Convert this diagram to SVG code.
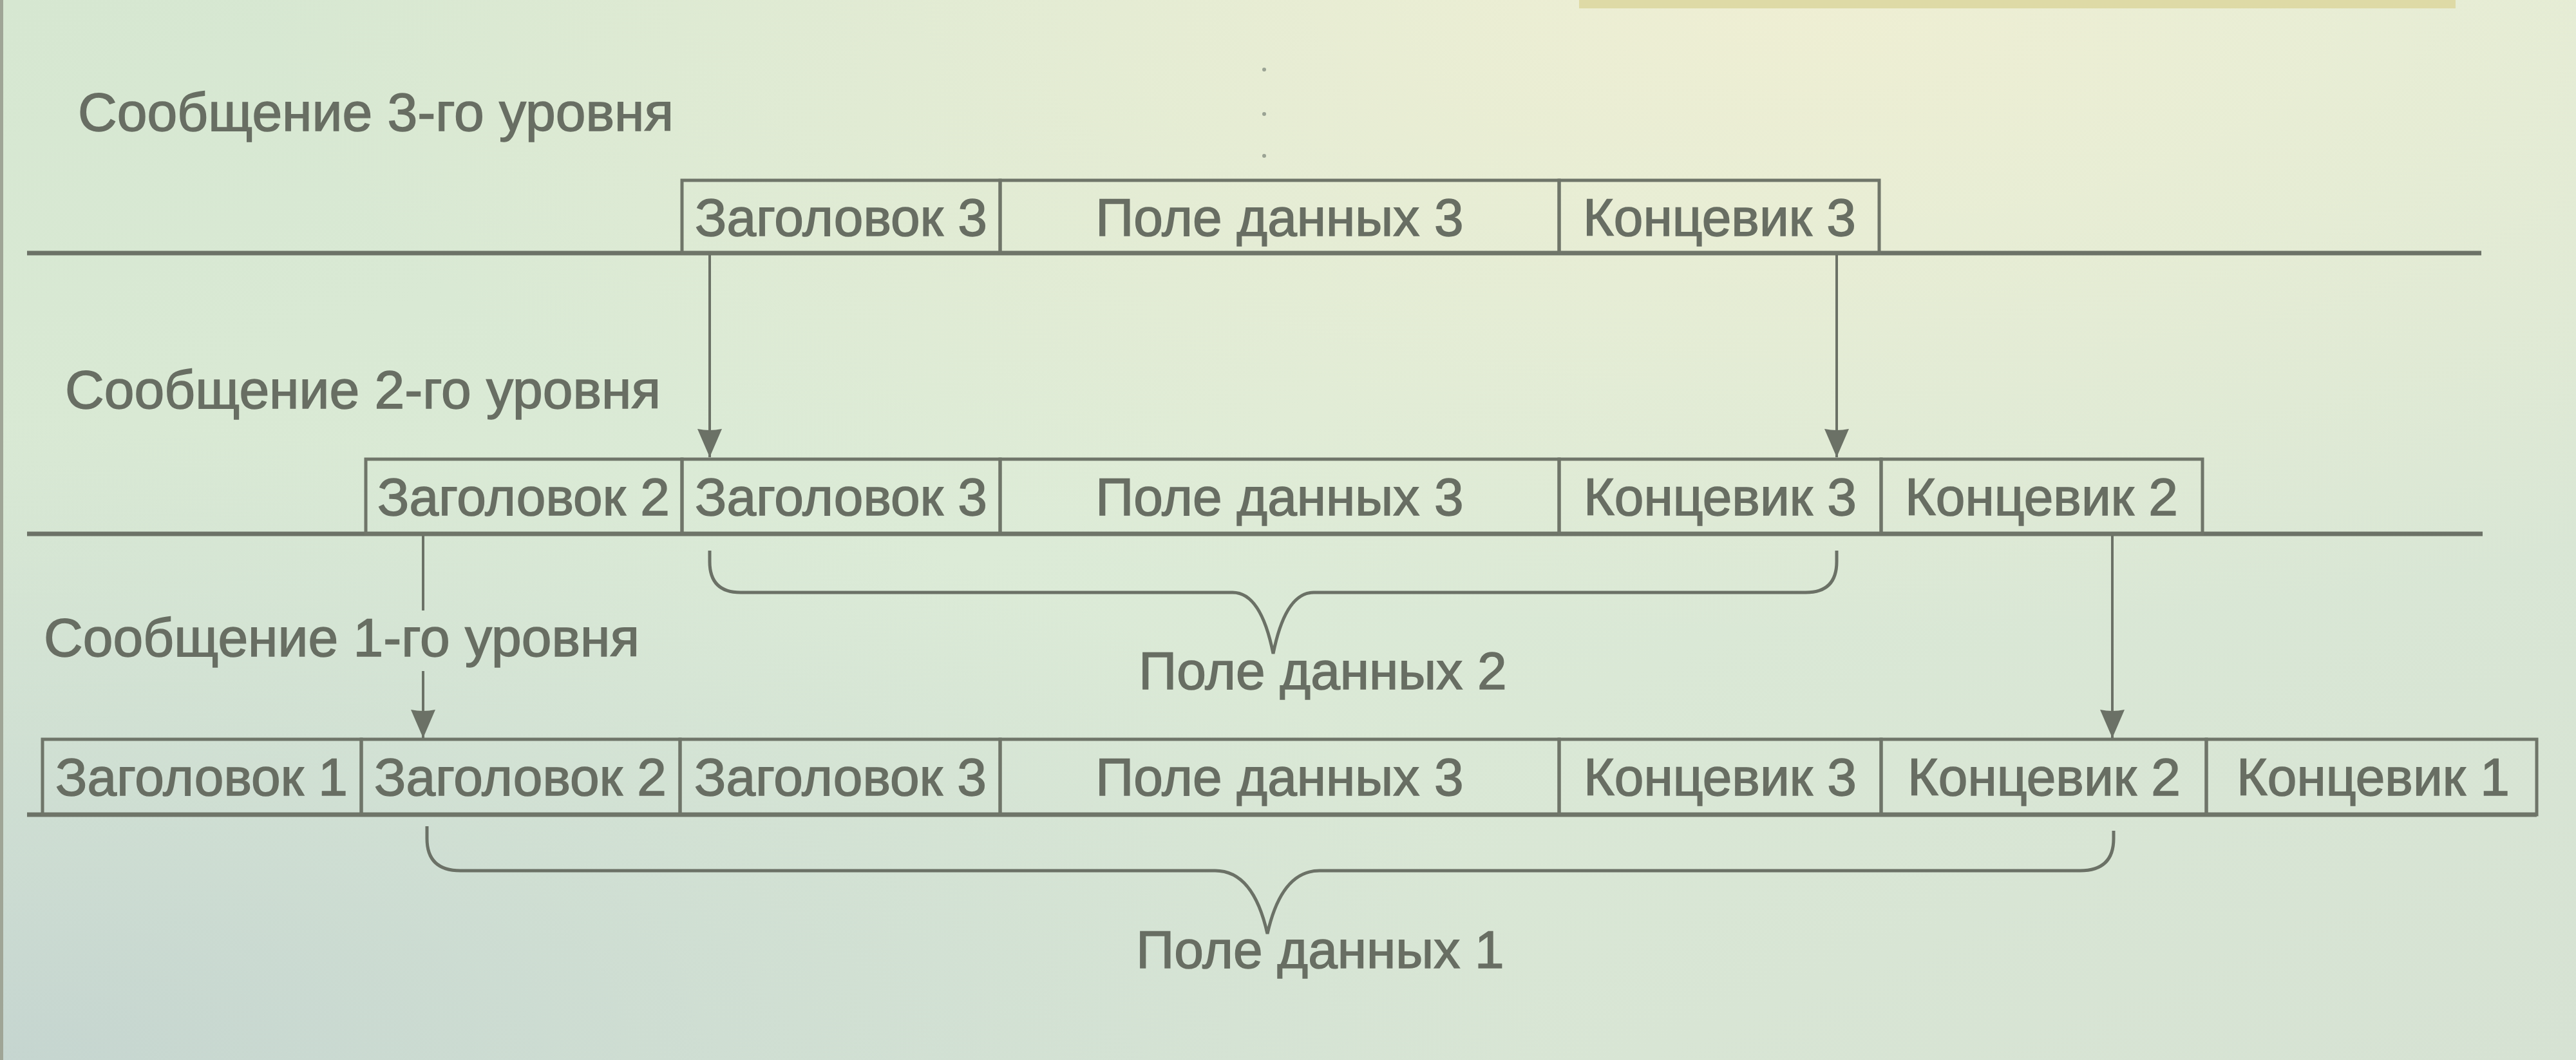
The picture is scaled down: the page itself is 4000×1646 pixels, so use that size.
<svg xmlns="http://www.w3.org/2000/svg" width="4000" height="1646" viewBox="0 0 4000 1646">
<defs>
<linearGradient id="bg" x1="0" y1="0" x2="1" y2="1">
<stop offset="0" stop-color="#d6e7d1"/>
<stop offset="0.45" stop-color="#dcebd7"/>
<stop offset="1" stop-color="#d6e2d3"/>
</linearGradient>
<radialGradient id="warm" cx="0.7" cy="0" r="0.6">
<stop offset="0" stop-color="#f1efd3" stop-opacity="0.9"/>
<stop offset="1" stop-color="#f1efd3" stop-opacity="0"/>
</radialGradient>
<radialGradient id="cool" cx="0" cy="1" r="0.6">
<stop offset="0" stop-color="#c3d3cf" stop-opacity="0.9"/>
<stop offset="1" stop-color="#c3d3cf" stop-opacity="0"/>
</radialGradient>
<marker id="arr" viewBox="-46 -20 48 40" refX="0" refY="0" markerWidth="48" markerHeight="40" markerUnits="userSpaceOnUse" orient="auto">
<path d="M-44,-19 Q-40,0 -44,19 L0,0 Z" fill="#6b7166"/>
</marker>
</defs>
<style>
.cell{fill:none;stroke:#6f7569;stroke-width:5}
.t{font-family:"Liberation Sans",Arial,sans-serif;font-size:82px;fill:#686e63;stroke:#686e63;stroke-width:1.5;text-anchor:middle}
.h{font-family:"Liberation Sans",Arial,sans-serif;font-size:84px;fill:#686e63;stroke:#686e63;stroke-width:1.5}
.rule{stroke:#6c7267;stroke-width:7;fill:none}
.conn{stroke:#6b7166;stroke-width:4;fill:none}
.brace{stroke:#6b7166;stroke-width:5;fill:none}
</style>
<rect width="4000" height="1646" fill="url(#bg)"/>
<rect width="4000" height="1646" fill="url(#warm)"/>
<rect width="4000" height="1646" fill="url(#cool)"/>
<rect x="2452" y="0" width="1361" height="13" fill="#dedaa6"/>
<rect x="0" y="0" width="5" height="1646" fill="#9fa596"/>
<g fill="#9aa394">
<circle cx="1963" cy="108" r="3"/>
<circle cx="1963" cy="177" r="3"/>
<circle cx="1963" cy="242" r="3"/>
</g>

<g id="labels">
<text id="lbl3" class="h" x="121" y="203">Сообщение 3-го уровня</text>
<text id="lbl2" class="h" x="101" y="634">Сообщение 2-го уровня</text>
<text id="lbl1" class="h" x="68" y="1019">Сообщение 1-го уровня</text>
</g>

<g id="rules">
<line class="rule" x1="42" y1="393" x2="3853" y2="393"/>
<line class="rule" x1="42" y1="829" x2="3855" y2="829"/>
<line class="rule" x1="42" y1="1265" x2="3939" y2="1265"/>
</g>

<g id="level3">
<g id="l3-hdr3"><rect class="cell" x="1059" y="280" width="494" height="113"/><text class="t" x="1306" y="366">Заголовок 3</text></g>
<g id="l3-data3"><rect class="cell" x="1553" y="280" width="868" height="113"/><text class="t" x="1987" y="366">Поле данных 3</text></g>
<g id="l3-trl3"><rect class="cell" x="2421" y="280" width="497" height="113"/><text class="t" x="2670" y="366">Концевик 3</text></g>
</g>

<g id="level2">
<g id="l2-hdr2"><rect class="cell" x="568" y="713" width="491" height="116"/><text class="t" x="813" y="800">Заголовок 2</text></g>
<g id="l2-hdr3"><rect class="cell" x="1059" y="713" width="494" height="116"/><text class="t" x="1306" y="800">Заголовок 3</text></g>
<g id="l2-data3"><rect class="cell" x="1553" y="713" width="868" height="116"/><text class="t" x="1987" y="800">Поле данных 3</text></g>
<g id="l2-trl3"><rect class="cell" x="2421" y="713" width="500" height="116"/><text class="t" x="2671" y="800">Концевик 3</text></g>
<g id="l2-trl2"><rect class="cell" x="2921" y="713" width="499" height="116"/><text class="t" x="3170" y="800">Концевик 2</text></g>
</g>

<g id="level1">
<g id="l1-hdr1"><rect class="cell" x="66" y="1148" width="495" height="117"/><text class="t" x="313" y="1235">Заголовок 1</text></g>
<g id="l1-hdr2"><rect class="cell" x="561" y="1148" width="495" height="117"/><text class="t" x="808" y="1235">Заголовок 2</text></g>
<g id="l1-hdr3"><rect class="cell" x="1056" y="1148" width="497" height="117"/><text class="t" x="1305" y="1235">Заголовок 3</text></g>
<g id="l1-data3"><rect class="cell" x="1553" y="1148" width="868" height="117"/><text class="t" x="1987" y="1235">Поле данных 3</text></g>
<g id="l1-trl3"><rect class="cell" x="2421" y="1148" width="500" height="117"/><text class="t" x="2671" y="1235">Концевик 3</text></g>
<g id="l1-trl2"><rect class="cell" x="2921" y="1148" width="505" height="117"/><text class="t" x="3174" y="1235">Концевик 2</text></g>
<g id="l1-trl1"><rect class="cell" x="3426" y="1148" width="513" height="117"/><text class="t" x="3685" y="1235">Концевик 1</text></g>
</g>

<g id="connectors">
<line class="conn" x1="1102" y1="396" x2="1102" y2="710" marker-end="url(#arr)"/>
<line class="conn" x1="2852" y1="396" x2="2852" y2="710" marker-end="url(#arr)"/>
<line class="conn" x1="657" y1="832" x2="657" y2="948"/>
<line class="conn" x1="657" y1="1042" x2="657" y2="1146" marker-end="url(#arr)"/>
<line class="conn" x1="3280" y1="832" x2="3280" y2="1146" marker-end="url(#arr)"/>
<path class="brace" d="M1102,855 L1102,872 Q1102,920 1150,920 L1914,920 Q1958,920 1977,1015 Q1996,920 2040,920 L2804,920 Q2852,920 2852,872 L2852,855"/>
<path class="brace" d="M663,1283 L663,1302 Q663,1352 715,1352 L1887,1352 Q1946,1352 1968,1450 Q1990,1352 2049,1352 L3230,1352 Q3282,1352 3282,1302 L3282,1290"/>
</g>

<g id="brace-labels">
<text class="t" x="2054" y="1070">Поле данных 2</text>
<text class="t" x="2050" y="1503">Поле данных 1</text>
</g>
</svg>
